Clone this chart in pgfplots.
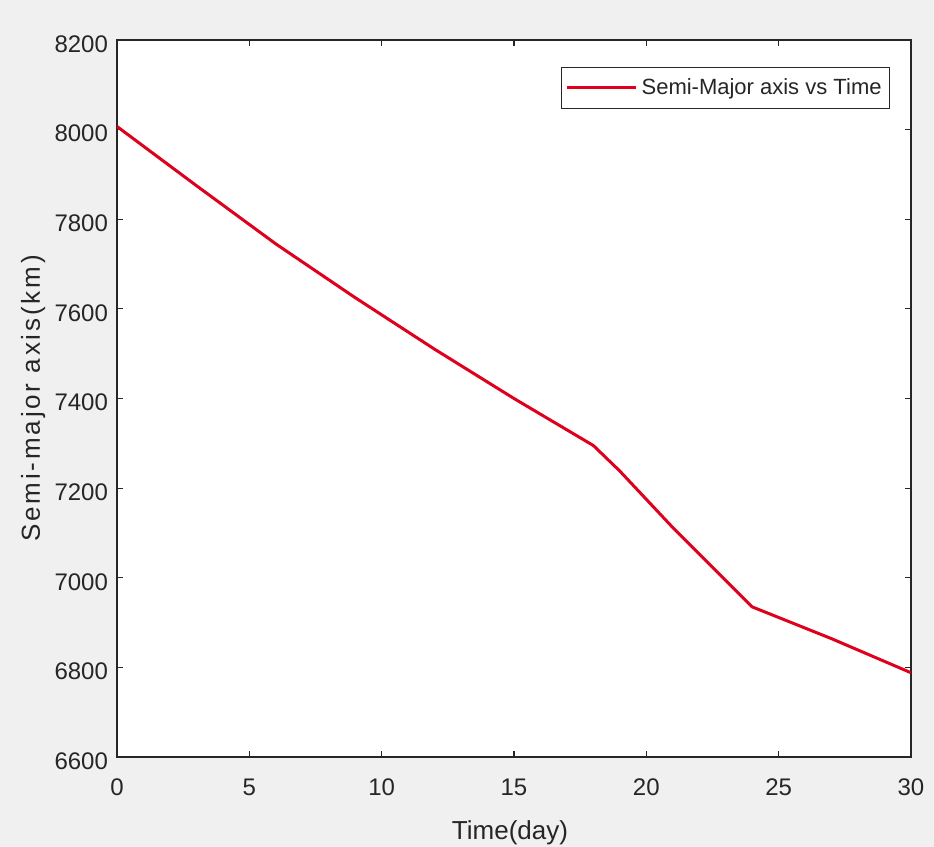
\documentclass[border=0pt]{standalone}
\usepackage{fontspec}
\setmainfont{Liberation Sans}
\newfontfamily\ylabfont[LetterSpace=11]{Liberation Sans}
\usepackage{pgfplots}
\pgfplotsset{compat=1.18}
\definecolor{bg}{HTML}{F0F0F0}
\definecolor{axc}{HTML}{262626}
\definecolor{lc}{RGB}{222,0,28}
\begin{document}
\begin{tikzpicture}
\fill[bg] (-58.5pt,-45pt) rectangle (408.5pt,378.5pt);
\path[use as bounding box] (-58.5pt,-45pt) rectangle (408.5pt,378.5pt);
\begin{axis}[
  at={(0,0)}, anchor=south west,
  scale only axis, width=397pt, height=358.5pt,
  xmin=0, xmax=30, ymin=6600, ymax=8200,
  xtick={0,5,...,30}, ytick={6600,6800,...,8200},
  axis background/.style={fill=white},
  axis line style={axc, line width=0.6pt},
  tick style={axc, line width=0.6pt},
  tick align=inside, major tick length=3pt,
  xtick pos=both, ytick pos=both,
  /pgf/number format/assume math mode=true,
  /pgf/number format/1000 sep={},
  tick label style={font=\fontsize{12}{14}\selectfont, text=axc},
  xticklabel style={yshift=-7.5pt},
  yticklabel style={xshift=-1pt, yshift=-2pt},
  xlabel={Time(day)}, ylabel={Semi-major axis(km)},
  every axis x label/.style={at={(axis description cs:0.495,-0.1144)}, anchor=base,
    font=\fontsize{13}{15}\selectfont, text=axc},
  every axis y label/.style={at={(axis description cs:-0.097,0.5)}, rotate=90, anchor=base,
    font=\ylabfont\fontsize{13}{15}\selectfont, text=axc},
  legend style={at={(1,1)}, anchor=north east, xshift=-10.5pt, yshift=-13.5pt,
    draw=axc, fill=white, font=\fontsize{11}{13}\selectfont, text=axc,
    inner xsep=2pt, inner ysep=3.5pt, row sep=0pt, cells={anchor=west}},
  legend image code/.code={\draw[#1] (0pt,0pt) -- (34.5pt,0pt);},
]
\addplot[lc, line width=1.5pt] coordinates {
(0,8007) (3,7875) (6,7745) (9,7625) (12,7510) (15,7400) (18,7295)
(19,7238) (21,7112) (24,6935) (27,6864) (30,6788)
};
\addlegendentry{Semi-Major axis vs Time}
\end{axis}
\end{tikzpicture}
\end{document}
